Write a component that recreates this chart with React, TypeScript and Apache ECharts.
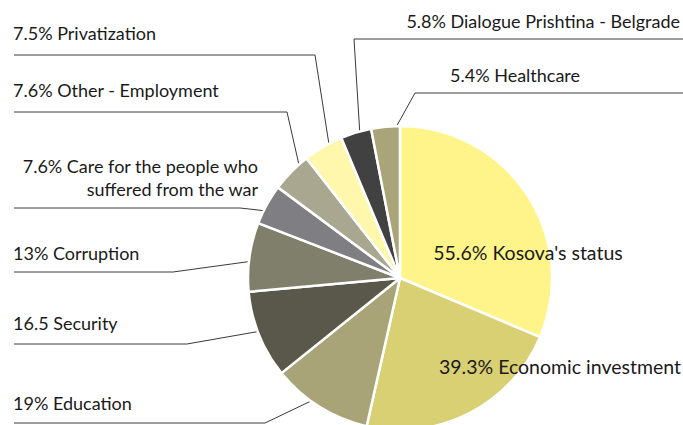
import React, { useEffect, useRef } from "react";
import * as echarts from "echarts";

const categories = [
  "Kosova's status",
  "Economic investment",
  "Education",
  "Security",
  "Corruption",
  "Care for the people who\nsuffered from the war",
  "Other - Employment",
  "Privatization",
  "Dialogue Prishtina - Belgrade",
  "Healthcare",
];
const values = [55.6, 39.3, 19, 16.5, 13, 7.6, 7.6, 7.5, 5.8, 5.4];
const valueLabels = ["55.6%", "39.3%", "19%", "16.5", "13%", "7.6%", "7.6%", "7.5%", "5.8%", "5.4%"];
const colors = [
  "#fff48a",
  "#d9cf73",
  "#a8a478",
  "#5a584a",
  "#807f6c",
  "#7f7f83",
  "#a9a78f",
  "#fff7ab",
  "#414141",
  "#a9a579",
];

const CX = 400;
const CY = 278;
const R = 152;
const W = 683;
const H = 425;

type Lay =
  | { kind: "inner"; x: number; y: number }
  | { kind: "outer"; side: "left" | "right"; tx: number; ty: number; ly: number; bx: number; align: "left" | "right" };

const layouts: Lay[] = [
  { kind: "inner", x: 528, y: 252 },
  { kind: "inner", x: 560, y: 366 },
  { kind: "outer", side: "left", tx: 13, ty: 403, ly: 423, bx: 265, align: "left" },
  { kind: "outer", side: "left", tx: 13, ty: 323, ly: 344, bx: 187, align: "left" },
  { kind: "outer", side: "left", tx: 13, ty: 253, ly: 272, bx: 173, align: "left" },
  { kind: "outer", side: "left", tx: 258, ty: 177, ly: 208, bx: 240, align: "right" },
  { kind: "outer", side: "left", tx: 13, ty: 90, ly: 112, bx: 287, align: "left" },
  { kind: "outer", side: "left", tx: 13, ty: 33, ly: 55, bx: 315, align: "left" },
  { kind: "outer", side: "right", tx: 680, ty: 21, ly: 39, bx: 354, align: "right" },
  { kind: "outer", side: "right", tx: 450, ty: 75, ly: 93, bx: 415, align: "left" },
];

export default function App() {
  const ref = useRef<HTMLDivElement>(null);
  useEffect(() => {
    if (!ref.current) return;
    const chart = echarts.init(ref.current, null, { renderer: "svg" });
    const data = values.map((v, i) => ({
      value: v,
      name: categories[i],
      itemStyle: { color: colors[i] },
      label: {
        position: layouts[i].kind === "inner" ? "inside" : "outside",
        formatter: `${valueLabels[i]} ${categories[i]}`,
        fontSize: layouts[i].kind === "inner" ? 19.5 : 18,
      },
      labelLine: { show: layouts[i].kind !== "inner" },
    }));
    chart.setOption({
      animation: false,
      backgroundColor: "#ffffff",
      series: [
        {
          type: "pie",
          center: [CX, CY],
          radius: [0, R],
          startAngle: 90,
          clockwise: true,
          avoidLabelOverlap: false,
          itemStyle: { borderColor: "#ffffff", borderWidth: 2.5 },
          label: {
            show: true,
            fontFamily: "Lato",
            fontSize: 18,
            color: "#1a1a1a",
            lineHeight: 23,
          },
          labelLine: {
            show: true,
            lineStyle: { color: "#3a3a3a", width: 1 },
          },
          emphasis: { disabled: true },
          labelLayout: (params: any) => {
            const L = layouts[params.dataIndex];
            if (L.kind === "inner") {
              return { x: L.x, y: L.y, align: "center", verticalAlign: "middle" };
            }
            const pts = params.labelLinePoints;
            let ax = CX;
            let ay = CY;
            if (pts && pts[0]) {
              ax = CX + (pts[0][0] - CX) * 0.89;
              ay = CY + (pts[0][1] - CY) * 0.89;
            }
            const ex = L.side === "left" ? 14 : W;
            return {
              x: L.tx,
              y: L.ty,
              align: L.align,
              verticalAlign: "middle",
              labelLinePoints: [
                [ax, ay],
                [L.bx, L.ly],
                [ex, L.ly],
              ],
            };
          },
          data,
        },
      ],
    });
    return () => chart.dispose();
  }, []);
  return (
    <div
      ref={ref}
      style={{ position: "fixed", left: 0, top: 0, width: W, height: H, background: "#fff" }}
    />
  );
}
